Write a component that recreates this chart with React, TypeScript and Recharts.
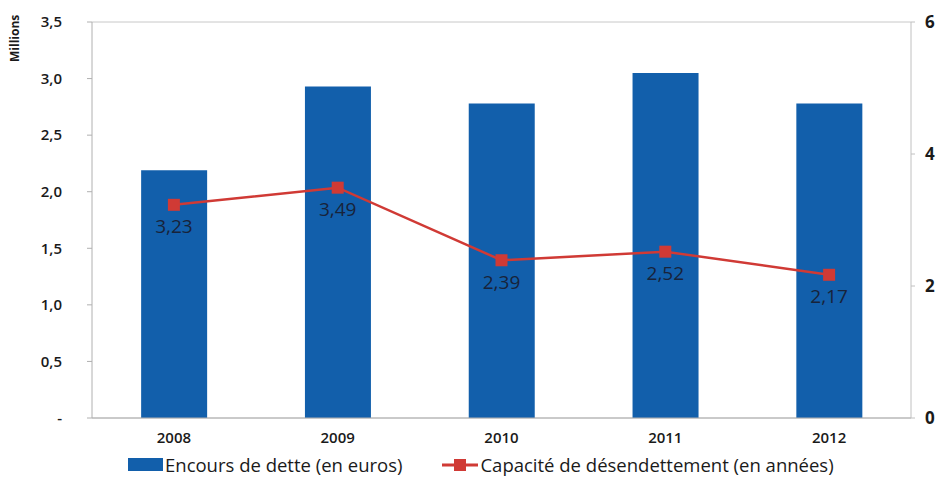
import { ComposedChart, Bar, Line, XAxis, YAxis, CartesianGrid, LabelList } from 'recharts';

const years = ['2008', '2009', '2010', '2011', '2012'];
const encours = [2.19, 2.93, 2.78, 3.05, 2.78];
const capacite = [3.23, 3.49, 2.39, 2.52, 2.17];
const leftTicks = [0, 0.5, 1, 1.5, 2, 2.5, 3, 3.5];
const rightTicks = [0, 2, 4, 6];

const data = years.map((year, i) => ({ year, encours: encours[i], capacite: capacite[i] }));

const BLUE = '#125fab';
const RED = '#d03a35';
const FONT = '"Open Sans", "Noto Sans", sans-serif';

const fmt = (v: number) => (v === 0 ? '-' : v.toFixed(1).replace('.', ','));

function Square(props: any) {
  const { cx, cy } = props;
  if (cx == null || cy == null) return null;
  return <rect x={cx - 6} y={cy - 6} width={12} height={12} fill={RED} />;
}

export default function App() {
  return (
    <div style={{ position: 'absolute', left: 0, top: 0, width: 938, height: 477, background: '#fff', fontFamily: FONT }}>
      <ComposedChart
        width={938}
        height={477}
        data={data}
        margin={{ top: 22, right: 0, bottom: 25, left: 20 }}
        barCategoryGap="30%"
      >
        <CartesianGrid vertical={false} stroke="#c8c8c8" />
        <XAxis
          dataKey="year"
          height={34}
          tickLine={false}
          axisLine={{ stroke: '#b0b0b0' }}
          tick={{ fill: '#1a1a1a', fontSize: 15, fontWeight: 600, fontFamily: FONT }}
          tickMargin={8}
        />
        <YAxis
          yAxisId="left"
          width={72}
          domain={[0, 3.5]}
          ticks={leftTicks}
          tickFormatter={fmt}
          axisLine={{ stroke: '#b0b0b0' }}
          tickLine={{ stroke: '#b0b0b0' }}
          tickSize={5}
          tick={{ fill: '#1a1a1a', fontSize: 15, fontWeight: 600, fontFamily: FONT }}
          tickMargin={25}
        />
        <YAxis
          yAxisId="right"
          orientation="right"
          width={27}
          domain={[0, 6]}
          ticks={rightTicks}
          axisLine={{ stroke: '#c0c0c0' }}
          tickLine={{ stroke: '#c0c0c0' }}
          tickSize={4}
          tick={{ fill: '#1a1a1a', fontSize: 17, fontWeight: 700, fontFamily: FONT }}
          tickMargin={10}
        />
        <Bar yAxisId="left" dataKey="encours" fill={BLUE} isAnimationActive={false} />
        <Line
          yAxisId="right"
          dataKey="capacite"
          stroke={RED}
          strokeWidth={2.5}
          dot={<Square />}
          activeDot={false}
          isAnimationActive={false}
        >
          <LabelList
            dataKey="capacite"
            position="bottom"
            offset={15}
            formatter={(v: any) => String(v).replace('.', ',')}
            style={{ fill: '#18233a', fontSize: 19, fontFamily: FONT }}
          />
        </Line>
      </ComposedChart>
      <div
        style={{
          position: 'absolute',
          left: 6,
          top: 62,
          transform: 'rotate(-90deg)',
          transformOrigin: 'left top',
          fontSize: 12,
          fontWeight: 700,
          color: '#1a1a1a',
        }}
      >
        Millions
      </div>
      <div
        style={{
          position: 'absolute',
          top: 452,
          left: 128,
          display: 'flex',
          alignItems: 'center',
          fontSize: 18.5,
          color: '#1a1a1a',
          whiteSpace: 'nowrap',
        }}
      >
        <span style={{ display: 'inline-block', width: 35, height: 13, background: BLUE, marginRight: 2 }} />
        <span>Encours de dette (en euros)</span>
        <svg width={36} height={14} style={{ marginLeft: 40, marginRight: 2 }}>
          <line x1={0} y1={7} x2={36} y2={7} stroke={RED} strokeWidth={3} />
          <rect x={12} y={1} width={12} height={12} fill={RED} />
        </svg>
        <span>Capacité de désendettement (en années)</span>
      </div>
    </div>
  );
}
